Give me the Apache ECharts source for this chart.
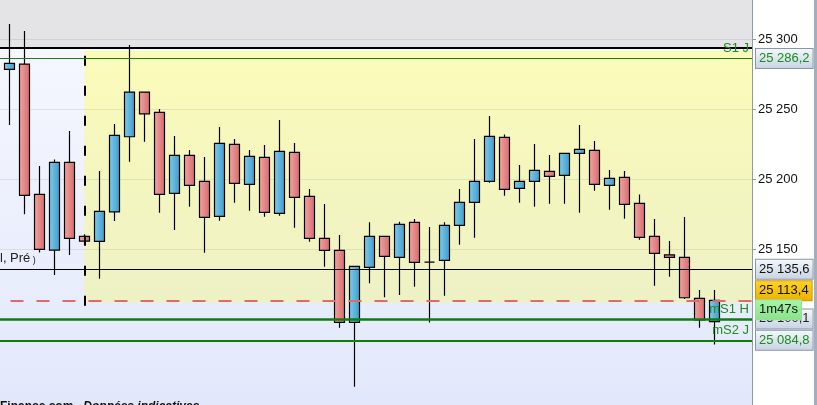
<!DOCTYPE html>
<html>
<head>
<meta charset="utf-8">
<script src="https://cdn.jsdelivr.net/npm/echarts@6/dist/echarts.min.js"></script>
<style>
  html, body { margin: 0; padding: 0; background: #fff; }
  #chart { width: 817px; height: 405px; }
</style>
</head>
<body>
<div id="chart"></div>
<script>
// Bougies (la 1re est coupée au bord gauche)
const opens  = [25306.4, 25278.4, 25282.1, 25189.0, 25149.3, 25211.9, 25159.1, 25155.5, 25176.6, 25230.2,
                25262.1, 25247.6, 25189.8, 25216.9, 25198.4, 25173.4, 25224.8, 25196.2, 25215.5, 25175.5,
                25219.1, 25187.6, 25157.6, 25149.0, 25097.6, 25136.9, 25159.1, 25144.1, 25169.1, 25140.7,
                25141.9, 25166.9, 25183.4, 25198.4, 25229.8, 25193.4, 25198.4, 25205.5, 25202.6, 25218.4,
                25220.5, 25195.5, 25201.2, 25182.6, 25159.1, 25145.9, 25144.1, 25114.8, 25098.1];
const closes = [25277.9, 25282.6, 25188.4, 25149.8, 25211.9, 25157.6, 25155.7, 25176.9, 25231.2, 25262.1,
                25246.6, 25189.0, 25216.9, 25195.5, 25172.6, 25225.5, 25196.9, 25216.2, 25176.2, 25219.8,
                25186.9, 25157.6, 25149.0, 25097.6, 25137.6, 25159.1, 25144.8, 25167.6, 25140.5, 25140.7,
                25166.9, 25183.4, 25198.4, 25230.5, 25192.6, 25198.4, 25206.2, 25201.9, 25218.4, 25221.2,
                25196.2, 25200.5, 25181.9, 25158.4, 25146.9, 25144.1, 25115.2, 25099.3, 25113.4];
const lows   = [25277.9, 25238.6, 25174.8, 25147.6, 25131.4, 25145.7, 25153.0, 25128.8, 25170.0, 25212.4,
                25226.6, 25176.0, 25163.6, 25180.2, 25147.4, 25170.2, 25183.0, 25177.4, 25173.0, 25173.8,
                25165.2, 25155.2, 25137.4, 25093.8, 25051.6, 25125.5, 25115.5, 25117.1, 25123.1, 25097.6,
                25116.6, 25153.1, 25158.1, 25197.4, 25188.0, 25183.0, 25180.2, 25182.4, 25182.4, 25175.9,
                25191.6, 25178.1, 25171.6, 25156.6, 25123.8, 25130.2, 25114.3, 25093.8, 25081.9];
const highs  = [25306.4, 25310.7, 25305.7, 25209.3, 25214.0, 25234.3, 25160.5, 25205.7, 25239.3, 25295.7,
                25262.1, 25250.0, 25230.7, 25220.7, 25215.7, 25237.1, 25228.6, 25220.7, 25224.3, 25242.1,
                25225.7, 25192.9, 25182.1, 25160.0, 25137.9, 25169.1, 25159.1, 25169.5, 25171.4, 25165.7,
                25169.1, 25192.9, 25228.6, 25245.0, 25231.9, 25210.0, 25225.0, 25217.1, 25218.4, 25238.6,
                25227.1, 25206.4, 25205.7, 25189.0, 25171.4, 25155.7, 25172.9, 25120.7, 25120.7];

const yTicks = [25150, 25200, 25250, 25300];
const yMin = 25038.6;
const yMax = 25327.9;
// fenêtre visible en numéros de bougie
const xMin = 0.38;
const xMax = 50.51;

// zone jaune et niveaux
const zoneStart = 6;
const zoneTop = 25291.6;
const zoneBottom = 25111.6;
const zoneLeftLow = 25107.5;
const dayHigh = 25293.8;
const s1Day = 25286.2;
const prevClose = 25135.6;
const lastPrice = 25113.4;
const ms1Hour = 25100.1;
const ms2Day = 25084.8;
const timerText = '1m47s';

const FONT = 'Liberation Sans, Arial, sans-serif';
const GREEN = '#1d8a1d';

function fmt(v, dec) {
    const parts = v.toFixed(dec).split('.');
    const ip = parts[0].replace(/\B(?=(\d{3})+(?!\d))/g, ' ');
    return parts[1] ? ip + ',' + parts[1] : ip;
}

function grad(vertical, c0, c1) {
    return new echarts.graphic.LinearGradient(0, 0, vertical ? 0 : 1, vertical ? 1 : 0, [
        { offset: 0, color: c0 },
        { offset: 1, color: c1 }
    ]);
}

// boite de prix sur l'axe de droite
function priceBox(text, color, bg, border, extra) {
    return Object.assign({
        show: true,
        position: 'end',
        distance: 4,
        formatter: text,
        color: color,
        fontFamily: FONT,
        fontSize: 13,
        lineHeight: 15,
        backgroundColor: bg,
        borderColor: border,
        borderWidth: 1,
        padding: [2, 3, 2, 3]
    }, extra || {});
}

function tag(text, pos, dist, extra) {
    return Object.assign({
        show: true,
        position: pos,
        distance: dist,
        formatter: text,
        color: GREEN,
        fontFamily: FONT,
        fontSize: 13
    }, extra || {});
}

const blueBox = () => grad(true, '#f6f8fc', '#c6d2e3');
const noLine = { color: 'rgba(0,0,0,0)', width: 0 };

const candles = opens.map((o, i) => [i, o, closes[i], lows[i], highs[i]]);

const chart = echarts.init(document.getElementById('chart'));

chart.setOption({
    animation: false,
    backgroundColor: '#ffffff',
    title: {
        text: '{a|Finance.com}  {b|Données indicatives}',
        left: 0,
        top: 398,
        padding: 0,
        textStyle: {
            rich: {
                a: { fontSize: 12, color: '#111', fontFamily: FONT },
                b: { fontSize: 12, color: '#111', fontFamily: FONT, fontStyle: 'italic' }
            }
        }
    },
    graphic: [{
        type: 'rect',
        right: 0,
        top: 0,
        shape: { width: 3, height: 405 },
        style: { fill: '#a5afbb' },
        silent: true
    }],
    grid: {
        left: 0,
        right: 65,
        top: 0,
        bottom: 0,
        show: true,
        borderWidth: 0,
        backgroundColor: grad(true, '#f8f9ff', '#e2e8fb')
    },
    xAxis: {
        type: 'value',
        min: xMin,
        max: xMax,
        axisLine: { show: false },
        axisTick: { show: false },
        axisLabel: { show: false },
        splitLine: { show: false }
    },
    yAxis: {
        type: 'value',
        position: 'right',
        min: yMin,
        max: yMax,
        axisLine: { show: true, lineStyle: { color: '#8c9aab', width: 1 } },
        axisTick: { show: true, length: 4, customValues: yTicks, lineStyle: { color: '#8c9aab' } },
        axisLabel: {
            customValues: yTicks,
            formatter: v => fmt(v, 0),
            color: '#111',
            fontFamily: FONT,
            fontSize: 13,
            margin: 6
        },
        splitLine: { show: false }
    },
    series: [
        {
            // lignes de grille : au-dessus des zones, sous les bougies
            name: 'grille',
            type: 'line',
            data: [],
            markLine: {
                z: 1.5,
                silent: true,
                symbol: 'none',
                label: { show: false },
                lineStyle: { color: 'rgba(0,0,0,0.08)', type: 'solid', width: 1 },
                data: yTicks.map(v => ({ yAxis: v }))
            }
        },
        {
            name: 'DAX',
            type: 'candlestick',
            data: candles,
            encode: { x: 0, y: [1, 2, 3, 4] },
            barWidth: 11,
            z: 2,
            emphasis: { disabled: true },
            itemStyle: {
                color: grad(false, '#7ccff0', '#4398c6'),
                color0: grad(false, '#f6a5a5', '#d36a6a'),
                borderColor: '#000',
                borderColor0: '#000',
                borderColorDoji: '#000',
                borderWidth: 1.2
            },
            markArea: {
                z: 1,
                silent: true,
                label: { show: false },
                data: [
                    [{ yAxis: dayHigh, itemStyle: { color: '#e4e4e7' } }, { yAxis: yMax }],
                    [{ xAxis: zoneStart, yAxis: zoneTop, itemStyle: { color: grad(true, '#fbfbb9', '#eef1c5') } },
                     { yAxis: zoneBottom }]
                ]
            },
            markLine: {
                z: 5,
                silent: true,
                symbol: 'none',
                label: { show: false },
                lineStyle: { type: 'solid' },
                data: [
                    { yAxis: dayHigh, lineStyle: { color: '#000', width: 2, type: 'solid' } },
                    [{ coord: [zoneStart, zoneTop], lineStyle: { color: '#000', width: 2, type: [21, 9] } },
                     { coord: [Infinity, zoneTop] }],
                    [{ coord: [zoneStart, zoneBottom], lineStyle: { color: '#000', width: 2, type: [21, 9], dashOffset: 8 } },
                     { coord: [Infinity, zoneBottom] }],
                    [{ coord: [zoneStart, zoneTop], lineStyle: { color: '#000', width: 2, type: [10, 20], dashOffset: 25 } },
                     { coord: [zoneStart, zoneLeftLow] }],

                    { yAxis: s1Day, lineStyle: { color: '#1b7d1b', width: 1.2 },
                      label: priceBox(fmt(s1Day, 1), GREEN, blueBox(), '#8796aa') },
                    { yAxis: s1Day, lineStyle: noLine, label: tag('S1 J', 'insideEndTop', 3) },

                    { yAxis: prevClose, lineStyle: { color: '#000', width: 1 },
                      label: priceBox(fmt(prevClose, 1), '#111', blueBox(), '#8796aa') },
                    { yAxis: prevClose, lineStyle: noLine,
                      label: tag('{a|l, Pré}{b| )}', 'insideStartTop', [0, 4], {
                          rich: {
                              a: { fontSize: 13, color: '#222', fontFamily: FONT },
                              b: { fontSize: 9, color: '#222', fontFamily: FONT, verticalAlign: 'bottom' }
                          }
                      }) },

                    { yAxis: ms1Hour, lineStyle: { color: '#0a800a', width: 2.7 },
                      label: priceBox(fmt(ms1Hour, 1), '#222', blueBox(), '#8796aa') },
                    { yAxis: ms1Hour, lineStyle: noLine, label: tag('mS1 H', 'insideEndTop', 3) },

                    { yAxis: ms2Day, lineStyle: { color: '#0a800a', width: 2 },
                      label: priceBox(fmt(ms2Day, 1), GREEN, blueBox(), '#8796aa') },
                    { yAxis: ms2Day, lineStyle: noLine, label: tag('mS2 J', 'insideEndTop', 3) },

                    { yAxis: lastPrice, lineStyle: { color: '#e06a6a', width: 2, type: [13, 13], dashOffset: 15.5 },
                      label: priceBox(fmt(lastPrice, 1), '#111', grad(true, '#ffd426', '#ecb000'), '#c99a10',
                                      { verticalAlign: 'bottom' }) },
                    { yAxis: lastPrice, lineStyle: noLine,
                      label: priceBox(timerText, '#111', grad(true, '#a8f5a8', '#86e486'), '#9fd89f',
                                      { verticalAlign: 'top' }) }
                ]
            }
        }
    ]
});
</script>
</body>
</html>
